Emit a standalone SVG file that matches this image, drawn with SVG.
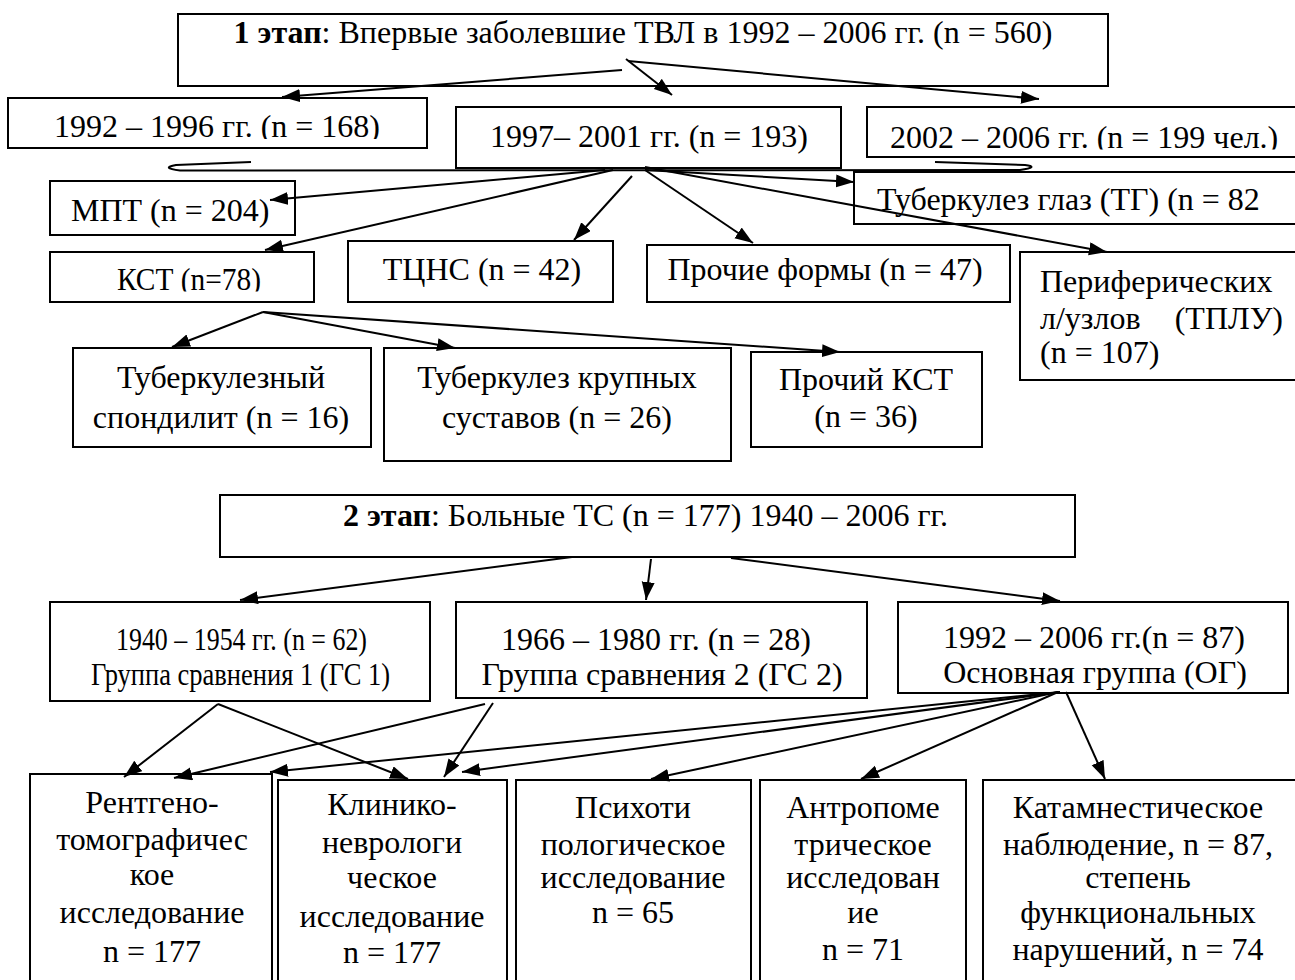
<svg xmlns="http://www.w3.org/2000/svg" width="1295" height="980" viewBox="0 0 1295 980">
<style>
.b{fill:#fff;stroke:#000;stroke-width:2}
.t{font-family:"Liberation Serif","Times New Roman",serif;font-size:32px;fill:#000}
.c{text-anchor:middle}
.l{fill:none;stroke:#000;stroke-width:2}
</style>
<defs>
<marker id="ah" markerUnits="userSpaceOnUse" markerWidth="20" markerHeight="14" refX="18" refY="6.5" orient="auto">
<path d="M0,0 L18,6.5 L0,13 z" fill="#000"/>
</marker>
<clipPath id="c1"><rect x="0" y="0" width="1295" height="139"/></clipPath>
<clipPath id="c2"><rect x="0" y="0" width="1295" height="149.5"/></clipPath>
<clipPath id="c3"><rect x="0" y="0" width="1295" height="291.5"/></clipPath>
</defs>
<rect width="1295" height="980" fill="#fff"/>

<g id="n-stage1"><rect class="b" x="178" y="14" width="930" height="72"/>
<text class="t c" x="643" y="43"><tspan font-weight="bold">1 этап</tspan>: Впервые заболевшие ТВЛ в 1992 – 2006 гг. (n = 560)</text></g>

<g id="n-1992"><rect class="b" x="8" y="98" width="419" height="50"/>
<text class="t c" x="217" y="137" clip-path="url(#c1)">1992 – 1996 гг. (n = 168)</text></g>

<g id="n-1997"><rect class="b" x="456" y="107" width="385" height="61"/>
<text class="t c" x="649" y="147">1997– 2001 гг. (n = 193)</text></g>

<g id="n-2002"><rect class="b" x="867" y="107" width="440" height="50"/>
<text class="t" x="890" y="148" clip-path="url(#c2)">2002 – 2006 гг. (n = 199 чел.)</text></g>

<g id="n-mpt"><rect class="b" x="50" y="181" width="245" height="54"/>
<text class="t" x="71" y="221">МПТ (n = 204)</text></g>

<g id="n-tg"><rect class="b" x="854" y="172" width="450" height="52"/>
<text class="t" x="877" y="210">Туберкулез глаз (ТГ) (n = 82</text></g>

<g id="n-kst"><rect class="b" x="50" y="252" width="264" height="50"/>
<text class="t" x="117" y="290" textLength="144" lengthAdjust="spacingAndGlyphs" clip-path="url(#c3)">КСТ (n=78)</text></g>

<g id="n-tcns"><rect class="b" x="348" y="241" width="265" height="61"/>
<text class="t c" x="482" y="280">ТЦНС (n = 42)</text></g>

<g id="n-other"><rect class="b" x="647" y="245" width="363" height="57"/>
<text class="t c" x="825" y="280">Прочие формы (n = 47)</text></g>

<g id="n-tplu"><rect class="b" x="1020" y="252" width="290" height="128"/>
<text class="t" x="1040" y="292">Периферических</text>
<text class="t" x="1040" y="329">л/узлов</text>
<text class="t" x="1283" y="329" text-anchor="end">(ТПЛУ)</text>
<text class="t" x="1040" y="363">(n = 107)</text></g>

<g id="n-spond"><rect class="b" x="73" y="348" width="298" height="99"/>
<text class="t c" x="221"><tspan x="221" y="388">Туберкулезный</tspan><tspan x="221" y="428">спондилит (n = 16)</tspan></text></g>

<g id="n-joints"><rect class="b" x="384" y="348" width="347" height="113"/>
<text class="t c" x="557"><tspan x="557" y="388">Туберкулез крупных</tspan><tspan x="557" y="428">суставов (n = 26)</tspan></text></g>

<g id="n-kst2"><rect class="b" x="751" y="352" width="231" height="95"/>
<text class="t c" x="866"><tspan x="866" y="390">Прочий КСТ</tspan><tspan x="866" y="427">(n = 36)</tspan></text></g>

<g id="n-stage2"><rect class="b" x="220" y="495" width="855" height="62"/>
<text class="t" x="343" y="526"><tspan font-weight="bold">2 этап</tspan>: Больные ТС (n = 177) 1940 – 2006 гг.</text></g>

<g id="n-gs1"><rect class="b" x="50" y="602" width="380" height="99"/>
<text class="t" x="116" y="650" textLength="251" lengthAdjust="spacingAndGlyphs">1940 – 1954 гг. (n = 62)</text>
<text class="t" x="91" y="685" textLength="299" lengthAdjust="spacingAndGlyphs">Группа сравнения 1 (ГС 1)</text></g>

<g id="n-gs2"><rect class="b" x="456" y="602" width="411" height="96"/>
<text class="t c" x="656" y="650">1966 – 1980 гг. (n = 28)</text>
<text class="t c" x="662" y="685">Группа сравнения 2 (ГС 2)</text></g>

<g id="n-og"><rect class="b" x="898" y="602" width="390" height="91"/>
<text class="t c" x="1094" y="648">1992 – 2006 гг.(n = 87)</text>
<text class="t c" x="1095" y="683">Основная группа (ОГ)</text></g>

<g id="n-rtg"><rect class="b" x="30" y="774" width="242" height="216"/>
<text class="t c"><tspan x="152" y="813">Рентгено-</tspan><tspan x="152" y="850">томографичес</tspan><tspan x="152" y="885">кое</tspan><tspan x="152" y="923">исследование</tspan><tspan x="152" y="962">n = 177</tspan></text></g>

<g id="n-clin"><rect class="b" x="278" y="780" width="229" height="210"/>
<text class="t c"><tspan x="392" y="815">Клинико-</tspan><tspan x="392" y="853">неврологи</tspan><tspan x="392" y="888">ческое</tspan><tspan x="392" y="927">исследование</tspan><tspan x="392" y="963">n = 177</tspan></text></g>

<g id="n-psy"><rect class="b" x="516" y="780" width="235" height="210"/>
<text class="t c"><tspan x="633" y="818">Психоти</tspan><tspan x="633" y="855">пологическое</tspan><tspan x="633" y="888">исследование</tspan><tspan x="633" y="923">n = 65</tspan></text></g>

<g id="n-anthro"><rect class="b" x="760" y="780" width="206" height="210"/>
<text class="t c"><tspan x="863" y="818">Антропоме</tspan><tspan x="863" y="855">трическое</tspan><tspan x="863" y="888">исследован</tspan><tspan x="863" y="923">ие</tspan><tspan x="863" y="960">n = 71</tspan></text></g>

<g id="n-catam"><rect class="b" x="983" y="780" width="330" height="210"/>
<text class="t c"><tspan x="1138" y="818">Катамнестическое</tspan><tspan x="1138" y="855">наблюдение, n = 87,</tspan><tspan x="1138" y="888">степень</tspan><tspan x="1138" y="923">функциональных</tspan><tspan x="1138" y="960">нарушений, n = 74</tspan></text></g>

<g id="connectors">
<line class="l" x1="622" y1="70" x2="282" y2="97" marker-end="url(#ah)"/>
<line class="l" x1="626" y1="59" x2="672" y2="95" marker-end="url(#ah)"/>
<line class="l" x1="628" y1="61" x2="1039" y2="99" marker-end="url(#ah)"/>
<path class="l" stroke-width="1.5" d="M251,162 L176,165 Q160,168 180,170.5 L1020,170 Q1040,167 1025,165 L935,162"/>
<line class="l" stroke-width="3" x1="605" y1="170" x2="270" y2="200" marker-end="url(#ah)"/>
<line class="l" x1="613" y1="170" x2="265" y2="250" marker-end="url(#ah)"/>
<line class="l" x1="632" y1="176" x2="574" y2="240" marker-end="url(#ah)"/>
<line class="l" x1="645" y1="170" x2="753" y2="243" marker-end="url(#ah)"/>
<line class="l" x1="645" y1="170" x2="854" y2="182" marker-end="url(#ah)"/>
<line class="l" x1="645" y1="167" x2="1107" y2="252" marker-end="url(#ah)"/>
<line class="l" x1="263" y1="312" x2="172" y2="347" marker-end="url(#ah)"/>
<line class="l" x1="263" y1="312" x2="455" y2="348" marker-end="url(#ah)"/>
<line class="l" x1="263" y1="312" x2="840" y2="352" marker-end="url(#ah)"/>
<line class="l" x1="572" y1="557" x2="240" y2="600" marker-end="url(#ah)"/>
<line class="l" x1="651" y1="559" x2="646" y2="600" marker-end="url(#ah)"/>
<line class="l" x1="731" y1="558" x2="1060" y2="601" marker-end="url(#ah)"/>
<line class="l" x1="218" y1="704" x2="124" y2="777" marker-end="url(#ah)"/>
<line class="l" x1="218" y1="704" x2="408" y2="779" marker-end="url(#ah)"/>
<line class="l" x1="493" y1="703" x2="444" y2="777" marker-end="url(#ah)"/>
<line class="l" x1="485" y1="704" x2="174" y2="778" marker-end="url(#ah)"/>
<line class="l" x1="1060" y1="692" x2="270" y2="772" marker-end="url(#ah)"/>
<line class="l" x1="1060" y1="692" x2="462" y2="772" marker-end="url(#ah)"/>
<line class="l" x1="1058" y1="692" x2="651" y2="779" marker-end="url(#ah)"/>
<line class="l" x1="1058" y1="692" x2="861" y2="779" marker-end="url(#ah)"/>
<line class="l" x1="1066" y1="692" x2="1105" y2="779" marker-end="url(#ah)"/>
</g>
</svg>
